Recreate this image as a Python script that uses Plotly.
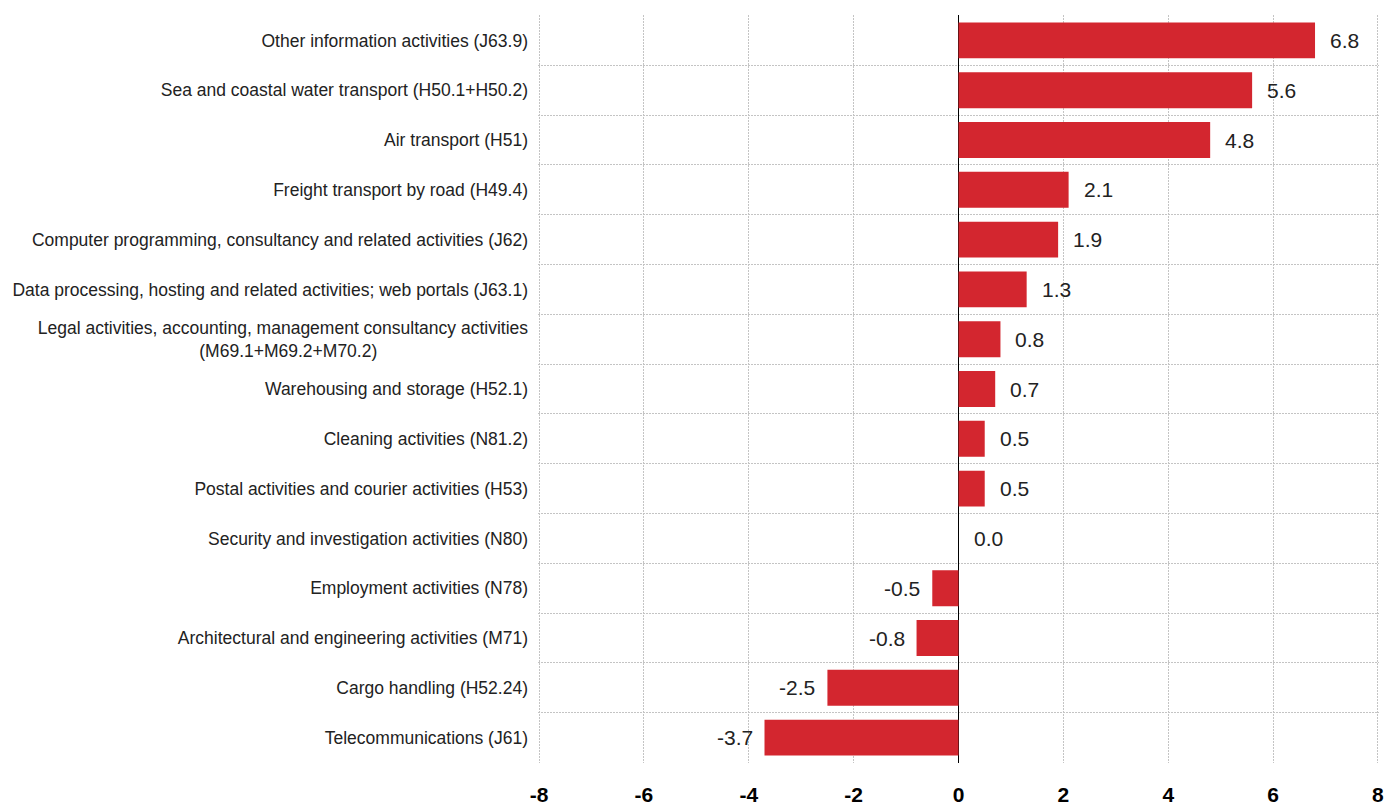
import plotly.graph_objects as go

categories = [
    "Other information activities (J63.9)",
    "Sea and coastal water transport (H50.1+H50.2)",
    "Air transport (H51)",
    "Freight transport by road (H49.4)",
    "Computer programming, consultancy and related activities (J62)",
    "Data processing, hosting and related activities; web portals (J63.1)",
    "Legal activities, accounting, management consultancy activities<br>(M69.1+M69.2+M70.2)" + "\u00a0" * 31,
    "Warehousing and storage (H52.1)",
    "Cleaning activities (N81.2)",
    "Postal activities and courier activities (H53)",
    "Security and investigation activities (N80)",
    "Employment activities (N78)",
    "Architectural and engineering activities (M71)",
    "Cargo handling (H52.24)",
    "Telecommunications (J61)",
]
values = [6.8, 5.6, 4.8, 2.1, 1.9, 1.3, 0.8, 0.7, 0.5, 0.5, 0.0, -0.5, -0.8, -2.5, -3.7]
x_ticks = [-8, -6, -4, -2, 0, 2, 4, 6, 8]

positions = list(range(len(categories)))
FONT = "Liberation Sans, Arial, sans-serif"
GRID = "#c4c4c4"

fig = go.Figure(go.Bar(
    x=values,
    y=positions,
    orientation="h",
    marker=dict(color="#D3262F", line=dict(width=0)),
    width=0.72,
    hoverinfo="x+y",
))

for p, v in zip(positions, values):
    fig.add_annotation(
        x=v, y=p, xref="x", yref="y",
        text=f"{v:.1f}", showarrow=False,
        xanchor="left" if v >= 0 else "right",
        xshift=13 if v >= 0 else -10,
        font=dict(family=FONT, size=21, color="#222222"),
    )

fig.update_layout(
    width=1388, height=806,
    margin=dict(l=538, r=9, t=15, b=43),
    paper_bgcolor="white", plot_bgcolor="white",
    showlegend=False,
    font=dict(family=FONT, color="#222222"),
    xaxis=dict(
        range=[-8.02, 8.02], tickvals=x_ticks, ticktext=[str(t) for t in x_ticks],
        showgrid=True, gridcolor=GRID, griddash="2px,1px", gridwidth=1,
        zeroline=True, zerolinecolor="#000000", zerolinewidth=1,
        tickfont=dict(family=FONT, size=21, color="#000000", weight="bold"),
        showline=False, ticks="", ticklabelstandoff=17, automargin=False,
    ),
    yaxis=dict(
        range=[len(categories) - 0.49, -0.51],
        tickvals=positions, ticktext=categories,
        showgrid=False, zeroline=False, showline=False, ticks="",
        tickfont=dict(family=FONT, size=17.5, color="#222222"),
        ticklabelstandoff=9, automargin=False,
        minor=dict(tickvals=[p - 0.5 for p in positions] + [len(categories) - 0.5],
                   showgrid=True, gridcolor=GRID, griddash="2px,1px", gridwidth=1),
    ),
)

fig.write_html(
    "out.html",
    config={"displayModeBar": False},
    post_script="document.body.style.margin='0';document.body.style.overflow='hidden';",
)
